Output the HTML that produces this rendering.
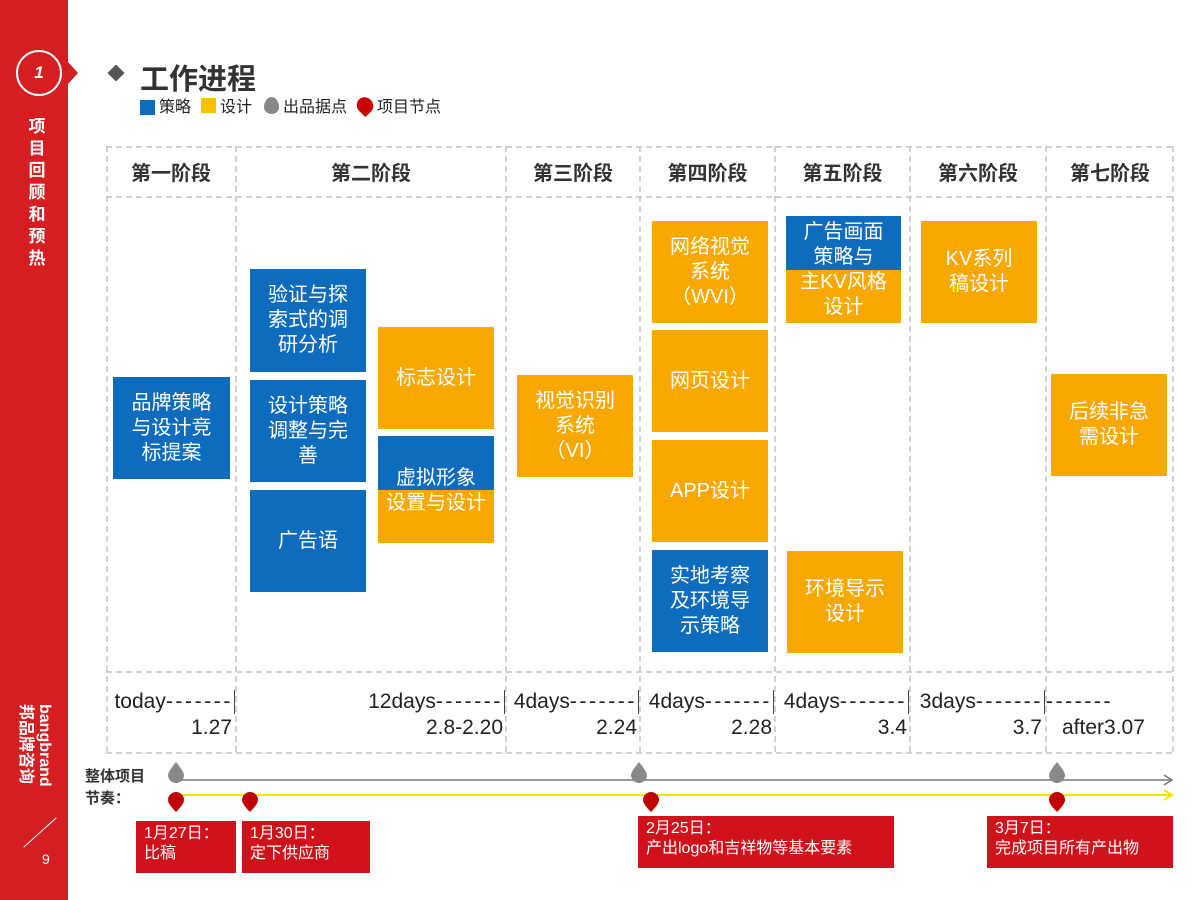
<!DOCTYPE html>
<html><head><meta charset="utf-8">
<style>
*{margin:0;padding:0;box-sizing:border-box}
body{width:1200px;height:900px;background:#fff;position:relative;overflow:hidden;font-family:"Liberation Sans","Noto Sans CJK SC",sans-serif}
.abs{position:absolute}
.box{position:absolute;color:#fff;font-size:20px;line-height:25px;display:flex;align-items:center;justify-content:center;text-align:center}
.b{background:#0d6cbd}.o{background:#f9a800}
.hd{position:absolute;top:146px;height:51px;display:flex;align-items:center;justify-content:center;font-weight:bold;font-size:20px;color:#333}
.lab{position:absolute;top:689px;font-size:21px;color:#222;line-height:25px;white-space:nowrap}
.lab .d{letter-spacing:2.6px}
.dt{position:absolute;top:715px;font-size:21px;color:#222;line-height:25px;text-align:right;white-space:nowrap}
.tick{position:absolute;top:690px;height:24px;border-left:1.5px solid #444}
.call{position:absolute;background:#d0121b;color:#fff;font-size:16px;line-height:20px;padding:3px 8px}
</style></head><body>
<div class="abs" style="left:0;top:0;width:68px;height:900px;background:#d41e20"></div>
<div class="abs" style="left:68px;top:62px;width:0;height:0;border-top:11px solid transparent;border-bottom:11px solid transparent;border-left:10px solid #d41e20"></div>
<div class="abs" style="left:16px;top:50px;width:46px;height:46px;border:2px solid #fff;border-radius:50%;color:#fff;font-style:italic;font-weight:bold;font-size:17px;display:flex;align-items:center;justify-content:center">1</div>
<div class="abs" style="left:26px;top:116px;width:22px;color:#fff;font-weight:bold;font-size:17px;line-height:22px;text-align:center">项目回顾和预热</div>
<div class="abs" style="left:-20px;top:740px;width:110px;transform:rotate(90deg);color:#fff;font-size:16px;line-height:19px;font-weight:bold;text-align:left">bangbrand<br>邦品牌咨询</div>
<div class="abs" style="left:18px;top:832px;width:44px;border-top:1.5px solid #fff;transform:rotate(-42deg)"></div>
<div class="abs" style="left:42px;top:851px;color:#fff;font-size:14px">9</div>

<div class="abs" style="left:110px;top:67px;width:12px;height:12px;background:#555;transform:rotate(45deg)"></div>
<div class="abs" style="left:140px;top:56px;font-size:29px;font-weight:bold;color:#333">工作进程</div>
<div class="abs" style="left:140px;top:93px;font-size:16px;color:#222;display:flex;align-items:center;gap:4px">
 <span style="width:15px;height:15px;background:#0d6cbd;display:inline-block;margin-top:5px"></span><span>策略</span>
 <span style="width:15px;height:15px;background:#f9c000;display:inline-block;margin-left:6px"></span><span>设计</span>
 <span style="width:15px;height:17px;background:#888;display:inline-block;margin-left:8px;border-radius:50% 50% 50% 50%/60% 60% 40% 40%"></span><span>出品据点</span>
 <span style="width:16px;height:17px;background:#c00;display:inline-block;margin-left:6px;border-radius:50% 50% 50% 0;transform:rotate(-45deg)"></span><span>项目节点</span>
</div>

<svg class="abs" style="left:0;top:0" width="1200" height="900">
 <g stroke="#c4c4c4" stroke-width="1.5" stroke-dasharray="6,4" fill="none">
  <line x1="106" y1="147" x2="1174" y2="147"/>
  <line x1="106" y1="197" x2="1174" y2="197"/>
  <line x1="106" y1="672" x2="1174" y2="672"/>
  <line x1="106" y1="753" x2="1174" y2="753"/>
  <line x1="107" y1="146" x2="107" y2="754"/>
  <line x1="236" y1="146" x2="236" y2="754"/>
  <line x1="506" y1="146" x2="506" y2="754"/>
  <line x1="640" y1="146" x2="640" y2="754"/>
  <line x1="775" y1="146" x2="775" y2="754"/>
  <line x1="910" y1="146" x2="910" y2="754"/>
  <line x1="1046" y1="146" x2="1046" y2="754"/>
  <line x1="1173" y1="146" x2="1173" y2="754"/>
 </g>
</svg>

<div class="hd" style="left:106px;width:130px">第一阶段</div>
<div class="hd" style="left:236px;width:270px">第二阶段</div>
<div class="hd" style="left:506px;width:134px">第三阶段</div>
<div class="hd" style="left:640px;width:135px">第四阶段</div>
<div class="hd" style="left:775px;width:135px">第五阶段</div>
<div class="hd" style="left:910px;width:136px">第六阶段</div>
<div class="hd" style="left:1046px;width:128px">第七阶段</div>

<div class="box b" style="left:113px;top:377px;width:117px;height:102px">品牌策略<br>与设计竞<br>标提案</div>
<div class="box b" style="left:250px;top:269px;width:116px;height:103px">验证与探<br>索式的调<br>研分析</div>
<div class="box b" style="left:250px;top:380px;width:116px;height:102px">设计策略<br>调整与完<br>善</div>
<div class="box b" style="left:250px;top:490px;width:116px;height:102px">广告语</div>
<div class="box o" style="left:378px;top:327px;width:116px;height:102px">标志设计</div>
<div class="abs b" style="left:378px;top:436px;width:116px;height:54px"></div>
<div class="abs o" style="left:378px;top:490px;width:116px;height:53px"></div>
<div class="box" style="left:378px;top:466px;width:116px;height:50px">虚拟形象<br>设置与设计</div>
<div class="box o" style="left:517px;top:375px;width:116px;height:102px">视觉识别<br>系统<br>（VI）</div>
<div class="box o" style="left:652px;top:221px;width:116px;height:102px">网络视觉<br>系统<br>（WVI）</div>
<div class="box o" style="left:652px;top:330px;width:116px;height:102px">网页设计</div>
<div class="box o" style="left:652px;top:440px;width:116px;height:102px">APP设计</div>
<div class="box b" style="left:652px;top:550px;width:116px;height:102px">实地考察<br>及环境导<br>示策略</div>
<div class="abs b" style="left:786px;top:216px;width:115px;height:54px"></div>
<div class="abs o" style="left:786px;top:270px;width:115px;height:53px"></div>
<div class="box" style="left:786px;top:218px;width:115px;height:104px">广告画面<br>策略与<br>主KV风格<br>设计</div>
<div class="box o" style="left:787px;top:551px;width:116px;height:102px">环境导示<br>设计</div>
<div class="box o" style="left:921px;top:221px;width:116px;height:102px">KV系列<br>稿设计</div>
<div class="box o" style="left:1051px;top:374px;width:116px;height:102px">后续非急<br>需设计</div>

<div class="lab" style="right:967px">today<span class="d">-------</span></div>
<div class="tick" style="left:234px"></div>
<div class="dt" style="right:968px">1.27</div>
<div class="lab" style="right:697px">12days<span class="d">-------</span></div>
<div class="tick" style="left:504px"></div>
<div class="dt" style="right:697px">2.8-2.20</div>
<div class="lab" style="right:563px">4days<span class="d">-------</span></div>
<div class="tick" style="left:638px"></div>
<div class="dt" style="right:563px">2.24</div>
<div class="lab" style="right:428px">4days<span class="d">-------</span></div>
<div class="tick" style="left:773px"></div>
<div class="dt" style="right:428px">2.28</div>
<div class="lab" style="right:293px">4days<span class="d">-------</span></div>
<div class="tick" style="left:908px"></div>
<div class="dt" style="right:293px">3.4</div>
<div class="lab" style="right:157px">3days<span class="d">-------</span></div>
<div class="tick" style="left:1044px"></div>
<div class="dt" style="right:158px">3.7</div>
<div class="lab" style="left:1046px"><span class="d">-------</span></div>
<div class="dt" style="left:1062px">after3.07</div>

<div class="abs" style="left:85px;top:766px;font-size:15px;font-weight:bold;color:#333;line-height:22px">整体项目<br>节奏：</div>
<svg class="abs" style="left:0;top:0" width="1200" height="900">
 <line x1="176" y1="780" x2="1172" y2="780" stroke="#777" stroke-width="1.5"/>
 <polyline points="1164,775 1172,780 1164,785" fill="none" stroke="#777" stroke-width="1.5"/>
 <line x1="176" y1="795" x2="1172" y2="795" stroke="#f5e600" stroke-width="2"/>
 <polyline points="1164,790 1172,795 1164,800" fill="none" stroke="#f5e600" stroke-width="2"/>
 <g fill="#888">
  <path d="M176 762 Q184 772 184 775 A8 8 0 0 1 168 775 Q168 772 176 762Z"/>
  <path d="M639 762 Q647 772 647 775 A8 8 0 0 1 631 775 Q631 772 639 762Z"/>
  <path d="M1057 762 Q1065 772 1065 775 A8 8 0 0 1 1049 775 Q1049 772 1057 762Z"/>
 </g>
 <g fill="#c00000">
  <path d="M176 812 Q168 804 168 800 A8 8 0 0 1 184 800 Q184 804 176 812Z"/>
  <path d="M250 812 Q242 804 242 800 A8 8 0 0 1 258 800 Q258 804 250 812Z"/>
  <path d="M651 812 Q643 804 643 800 A8 8 0 0 1 659 800 Q659 804 651 812Z"/>
  <path d="M1057 812 Q1049 804 1049 800 A8 8 0 0 1 1065 800 Q1065 804 1057 812Z"/>
 </g>
</svg>
<div class="call" style="left:136px;top:821px;width:100px;height:52px">1月27日：<br>比稿</div>
<div class="call" style="left:242px;top:821px;width:128px;height:52px">1月30日：<br>定下供应商</div>
<div class="call" style="left:638px;top:816px;width:256px;height:52px">2月25日：<br>产出logo和吉祥物等基本要素</div>
<div class="call" style="left:987px;top:816px;width:186px;height:52px">3月7日：<br>完成项目所有产出物</div>
</body></html>
